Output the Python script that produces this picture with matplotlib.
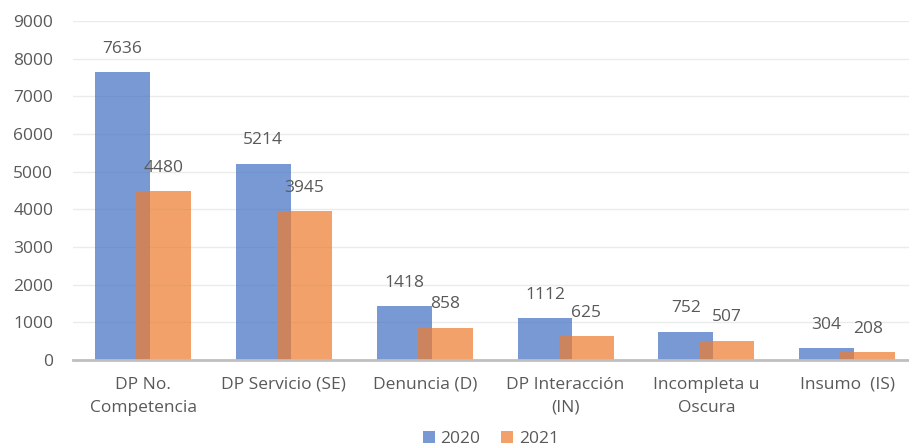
import matplotlib.pyplot as plt
import numpy as np

# categories and yearly counts
categories = ["DP No.\nCompetencia", "DP Servicio (SE)", "Denuncia (D)",
              "DP Interacción\n(IN)", "Incompleta u\nOscura", "Insumo  (IS)"]
vals_2020 = [7636, 5214, 1418, 1112, 752, 304]
vals_2021 = [4480, 3945, 858, 625, 507, 208]

plt.rcParams["font.family"] = ["Open Sans", "DejaVu Sans"]
TXT = "#595959"
FS = 12.5

fig = plt.figure(figsize=(9.09, 4.47), dpi=100)
ax = fig.add_axes([0.0799, 0.195, 0.9296, 0.758])

x = np.arange(len(categories))
w = 0.39
off = 0.146

b1 = ax.bar(x - off, vals_2020, w, color="#4472C4", alpha=0.72, label="2020", zorder=3)
b2 = ax.bar(x + off, vals_2021, w, color="#ED7D31", alpha=0.72, label="2021", zorder=4)

for xi, v in zip(x - off, vals_2020):
    ax.annotate(str(v), (xi, v), xytext=(0, 11), textcoords="offset points",
                ha="center", va="bottom", fontsize=FS, color=TXT)
for xi, v in zip(x + off, vals_2021):
    ax.annotate(str(v), (xi, v), xytext=(0, 11), textcoords="offset points",
                ha="center", va="bottom", fontsize=FS, color=TXT)

ax.set_xlim(-0.5, len(categories) - 0.5)
ax.set_ylim(0, 9000)
ax.set_yticks(range(0, 9001, 1000))
ax.set_xticks(x)
ax.set_xticklabels(categories, fontsize=FS, color=TXT, linespacing=1.6)
ax.tick_params(axis="y", labelsize=FS, labelcolor=TXT, length=0, pad=14)
ax.tick_params(axis="x", length=0, pad=12)

ax.grid(axis="y", color="#EBEBEB", linewidth=1, zorder=0)
for s in ["top", "right", "left"]:
    ax.spines[s].set_visible(False)
ax.spines["bottom"].set_color("#BFBFBF")
ax.spines["bottom"].set_linewidth(2)
ax.spines["bottom"].set_zorder(5)

fig.legend(handles=[b1, b2], loc="lower center", bbox_to_anchor=(0.54, -0.035),
           ncol=2, frameon=False, fontsize=FS, labelcolor=TXT,
           handlelength=0.7, handleheight=0.7, handletextpad=0.3, columnspacing=1.2)

fig.savefig("out.png", dpi=100)
